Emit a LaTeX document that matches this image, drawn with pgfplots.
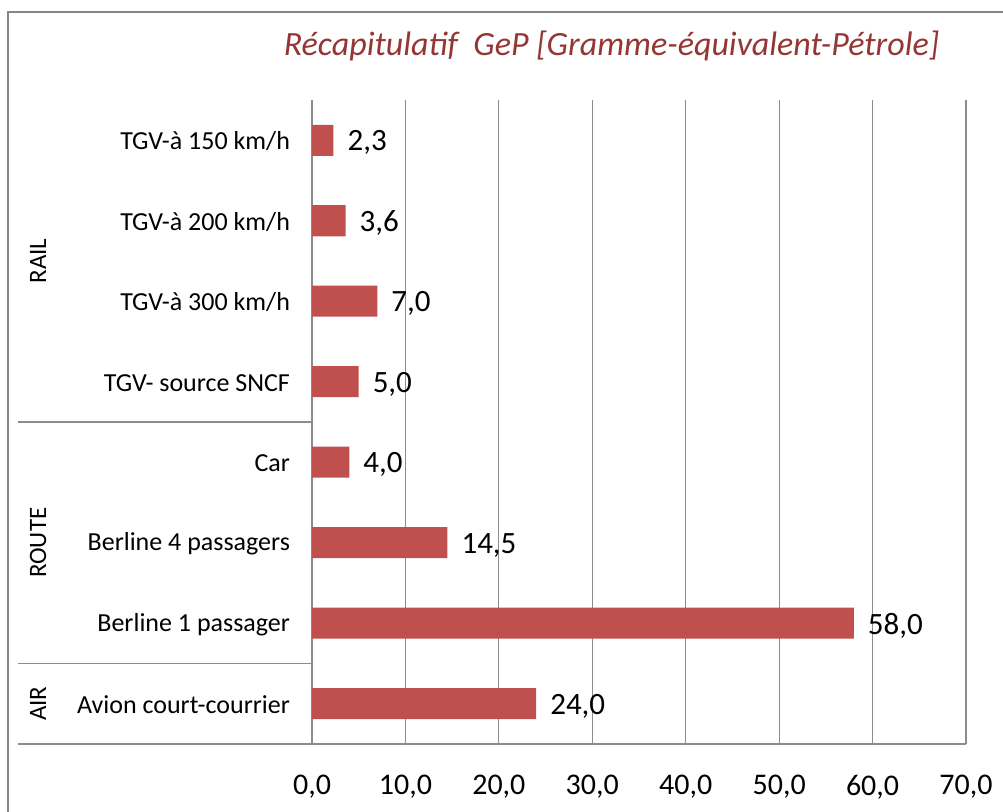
\documentclass[border=0pt]{standalone}
\usepackage{pgfplots}
\pgfplotsset{compat=1.18}
\usepackage{fontspec}
\setmainfont{Carlito}
\definecolor{framegray}{RGB}{134,134,134}
\definecolor{gridgray}{RGB}{140,140,140}
\definecolor{barred}{RGB}{192,80,77}
\definecolor{titlered}{RGB}{148,54,52}
\begin{document}
\begin{tikzpicture}
\useasboundingbox (0pt,0pt) rectangle (501.5pt,-406pt);
\clip (0pt,0pt) rectangle (501.5pt,-406pt);
\draw[framegray, line width=1pt] (4pt,-6pt) rectangle (530pt,-440pt);
\node[anchor=base, font=\itshape\fontsize{17}{20}\selectfont, text=titlered] at (305.75pt,-28pt) {Récapitulatif\ \ GeP [Gramme-équivalent-Pétrole]};
\begin{axis}[
  at={(156pt,-372pt)}, anchor=south west,
  scale only axis, width=327pt, height=322pt,
  xbar, bar width=15.5pt,
  xmin=0, xmax=70, ymin=0.5, ymax=8.5,
  axis lines*=left,
  axis line style={gridgray, line width=0.6pt},
  xmajorgrids, grid style={gridgray, line width=0.6pt},
  major tick length=0pt,
  xtick={0,10,...,70},
  ytick={1,...,8},
  yticklabels={{Avion court-courrier},{Berline 1 passager},{Berline 4 passagers},{Car},{TGV- source SNCF},{TGV-à 300 km/h},{TGV-à 200 km/h},{TGV-à 150 km/h}},
  yticklabel style={font=\fontsize{13}{15}\selectfont, xshift=-7.5pt, yshift=-0.5pt},
  xticklabel style={font=\fontsize{15}{18}\selectfont, yshift=-12pt,
    /pgf/number format/.cd, fixed, fixed zerofill, precision=1, use comma, assume math mode=true},
  point meta=x,
  nodes near coords={\pgfmathprintnumber[fixed,fixed zerofill,precision=1,use comma,assume math mode=true]{\pgfplotspointmeta}},
  nodes near coords style={font=\fontsize{15.5}{18}\selectfont, anchor=west, text=black, xshift=3.5pt, yshift=-1.2pt},
  clip=false,
]
\addplot[fill=barred, draw=none] coordinates {
  (24.0,1) (58.0,2) (14.5,3) (4.0,4) (5.0,5) (7.0,6) (3.6,7) (2.3,8)
};
\draw[gridgray, line width=0.6pt] ([xshift=-147pt]axis cs:0,4.5) -- (axis cs:0,4.5);
\draw[gridgray, line width=0.6pt] ([xshift=-147pt]axis cs:0,1.5) -- (axis cs:0,1.5);
\draw[gridgray, line width=0.6pt] ([xshift=-147pt]axis cs:0,0.5) -- (axis cs:0,0.5);
\node[rotate=90, font=\fontsize{12.5}{15}\selectfont] at ([xshift=-137pt]axis cs:0,6.5) {RAIL};
\node[rotate=90, font=\fontsize{12.5}{15}\selectfont] at ([xshift=-137pt]axis cs:0,3) {ROUTE};
\node[rotate=90, font=\fontsize{12.5}{15}\selectfont] at ([xshift=-137pt]axis cs:0,1) {AIR};
\end{axis}
\end{tikzpicture}
\end{document}
